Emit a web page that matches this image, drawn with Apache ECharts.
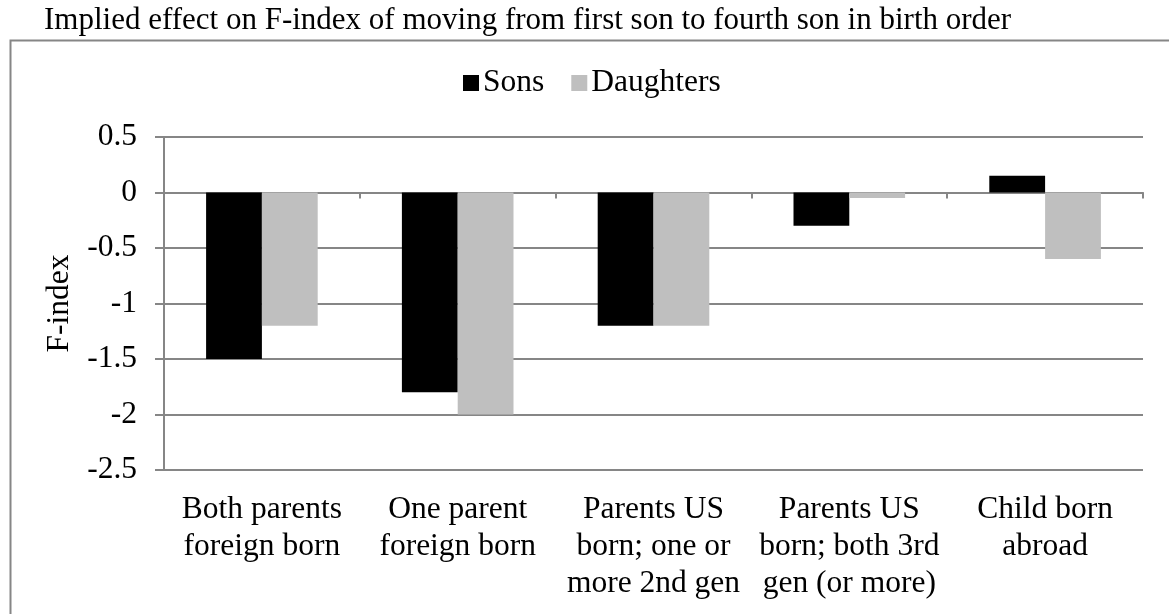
<!DOCTYPE html>
<html>
<head>
<meta charset="utf-8">
<script src="https://cdn.jsdelivr.net/npm/echarts@6/dist/echarts.min.js"></script>
<style>
  html, body { margin: 0; padding: 0; background: #fff; }
  #chart { width: 1169px; height: 614px; }
</style>
</head>
<body>
<div id="chart"></div>
<script>
// data
var categories = [
    'Both parents\nforeign born',
    'One parent\nforeign born',
    'Parents US\nborn; one or\nmore 2nd gen',
    'Parents US\nborn; both 3rd\ngen (or more)',
    'Child born\nabroad'
];
var sons = [-1.5, -1.8, -1.2, -0.3, 0.15];
var daughters = [-1.2, -2.0, -1.2, -0.05, -0.6];
var yTicks = [-2.5, -2, -1.5, -1, -0.5, 0, 0.5];

var serif = "'Liberation Serif', 'Times New Roman', serif";
var lineColor = '#868686';
var fs = 31.5;

var chart = echarts.init(document.getElementById('chart'));

var option = {
    animation: false,
    title: {
        text: 'Implied effect on F-index of moving from first son to fourth son in birth order',
        left: 44,
        top: 5,
        padding: 0,
        textStyle: { fontFamily: serif, fontSize: 31, fontWeight: 'normal', color: '#000' }
    },
    graphic: [{
        type: 'rect',
        left: 8,
        top: 38,
        shape: { width: 1300, height: 700 },
        style: { fill: 'none', stroke: lineColor, lineWidth: 2 },
        z: -1
    }],
    legend: {
        left: 463,
        top: 67,
        padding: 0,
        itemWidth: 16,
        itemHeight: 16,
        itemGap: 27,
        icon: 'rect',
        textStyle: { fontFamily: serif, fontSize: fs, color: '#000', padding: [0, 0, 0, -1] },
        data: ['Sons', 'Daughters']
    },
    grid: { left: 164, right: 26, top: 137, bottom: 144 },
    xAxis: [{
        type: 'category',
        data: categories,
        axisLine: { show: false, onZero: false },
        axisTick: { show: false },
        axisLabel: {
            interval: 0,
            margin: 21,
            fontFamily: serif,
            fontSize: fs,
            lineHeight: 37,
            color: '#000',
            verticalAlign: 'top'
        }
    }, {
        type: 'category',
        data: categories,
        position: 'bottom',
        axisLine: { show: true, onZero: true, lineStyle: { color: lineColor, width: 2 } },
        axisTick: { show: true, length: 6, lineStyle: { color: lineColor, width: 2 } },
        axisLabel: { show: false }
    }],
    yAxis: {
        type: 'value',
        min: yTicks[0],
        max: yTicks[yTicks.length - 1],
        interval: 0.5,
        name: 'F-index',
        nameLocation: 'middle',
        nameGap: 88,
        nameTextStyle: { fontFamily: serif, fontSize: fs, color: '#000' },
        axisLine: { show: true, lineStyle: { color: lineColor, width: 2 } },
        axisTick: { show: true, length: 9, lineStyle: { color: lineColor, width: 2 } },
        axisLabel: { margin: 27, fontFamily: serif, fontSize: fs, color: '#000' },
        splitLine: { show: true, lineStyle: { color: lineColor, width: 2 } }
    },
    series: [{
        name: 'Sons',
        type: 'bar',
        data: sons,
        barGap: '0%',
        barCategoryGap: '43%',
        itemStyle: { color: '#000' }
    }, {
        name: 'Daughters',
        type: 'bar',
        data: daughters,
        itemStyle: { color: '#bfbfbf' }
    }]
};

chart.setOption(option);
</script>
</body>
</html>
